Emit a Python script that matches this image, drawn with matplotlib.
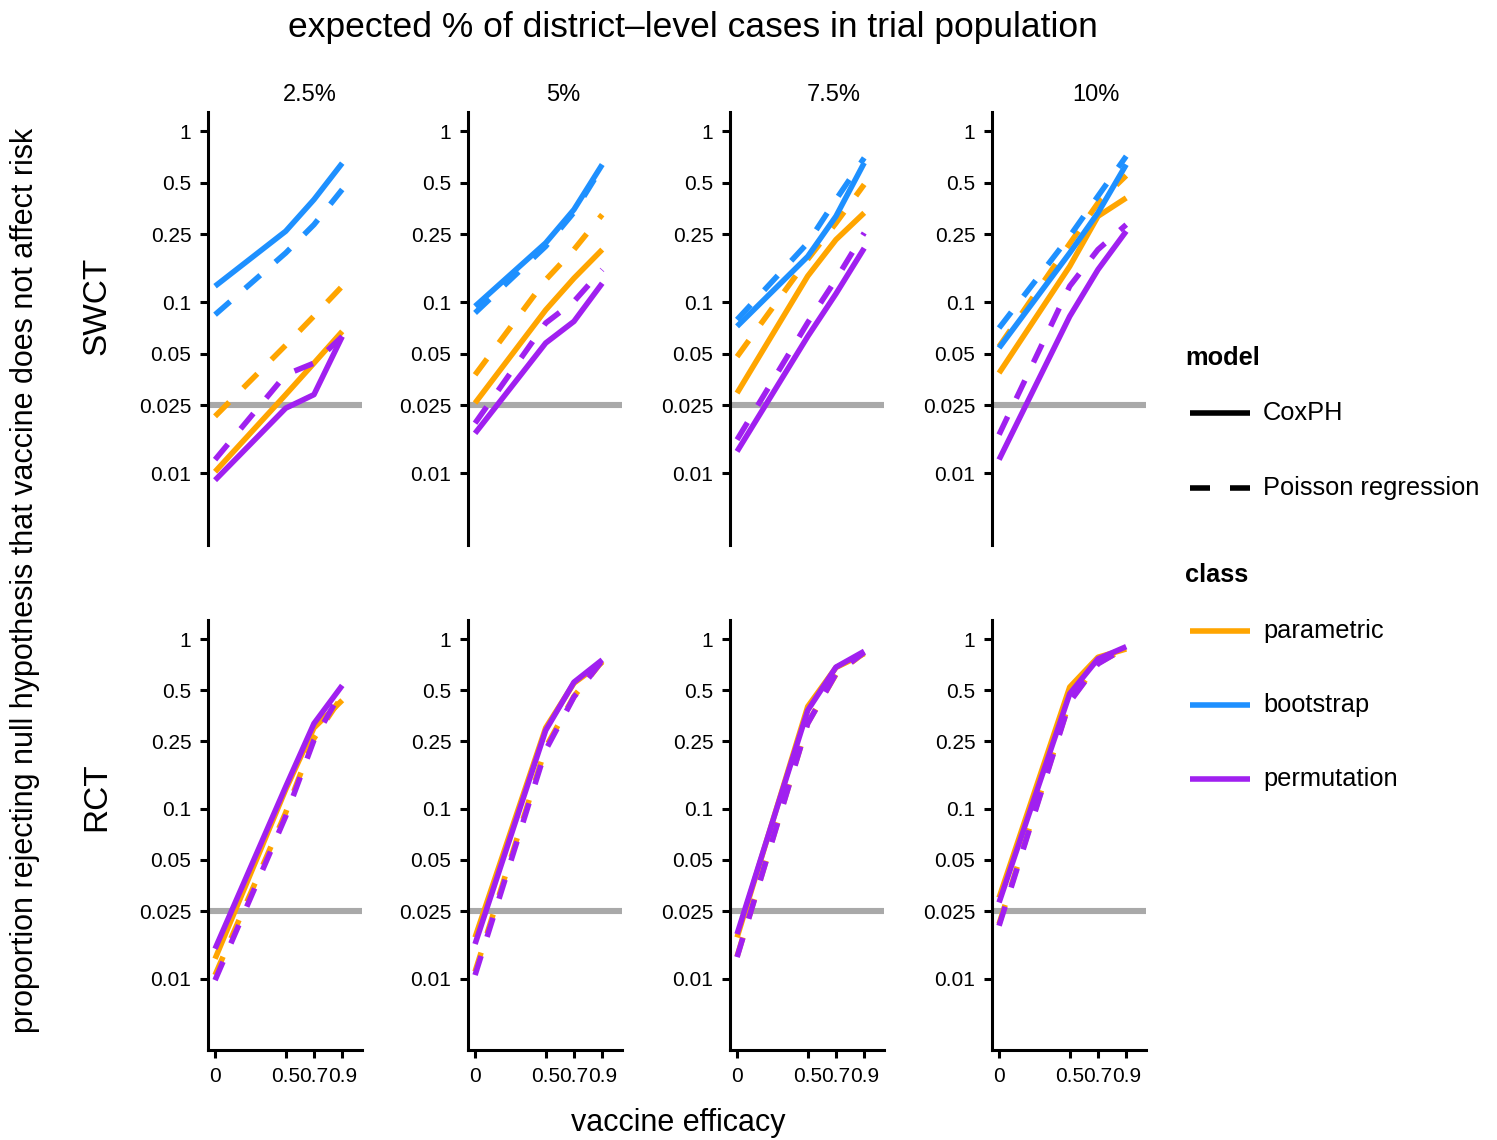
import matplotlib
matplotlib.use("Agg")
import matplotlib.pyplot as plt
from matplotlib.lines import Line2D
import numpy as np

# ---------------- data ----------------
efficacy = [0, 0.5, 0.7, 0.9]
pct_labels = ["2.5%", "5%", "7.5%", "10%"]
designs = ["SWCT", "RCT"]
classes = ["parametric", "bootstrap", "permutation"]
models = ["CoxPH", "Poisson regression"]
y_ticks = [0.01, 0.025, 0.05, 0.1, 0.25, 0.5, 1]
y_tick_labels = ["0.01", "0.025", "0.05", "0.1", "0.25", "0.5", "1"]
x_ticks = [0, 0.5, 0.7, 0.9]
x_tick_labels = ["0", "0.5", "0.7", "0.9"]
alpha_level = 0.025

# SWCT, one row per % of cases (2.5, 5, 7.5, 10), values at efficacy 0, .5, .7, .9
swct_parametric_cox = [[0.0102, 0.0288, 0.044, 0.0675],
                       [0.0257, 0.090, 0.138, 0.203],
                       [0.0294, 0.142, 0.232, 0.333],
                       [0.0385, 0.162, 0.318, 0.407]]
swct_parametric_pois = [[0.0215, 0.056, 0.083, 0.124],
                        [0.0376, 0.135, 0.203, 0.325],
                        [0.048, 0.178, 0.29, 0.488],
                        [0.055, 0.22, 0.38, 0.55]]
swct_bootstrap_cox = [[0.124, 0.26, 0.398, 0.65],
                      [0.0946, 0.222, 0.348, 0.638],
                      [0.0722, 0.185, 0.318, 0.653],
                      [0.054, 0.194, 0.333, 0.638]]
swct_bootstrap_pois = [[0.0845, 0.194, 0.284, 0.456],
                       [0.0865, 0.212, 0.335, 0.62],
                       [0.079, 0.222, 0.398, 0.698],
                       [0.0706, 0.243, 0.417, 0.714]]
swct_permutation_cox = [[0.0091, 0.024, 0.0288, 0.063],
                        [0.0171, 0.0577, 0.0772, 0.129],
                        [0.0134, 0.063, 0.112, 0.207],
                        [0.012, 0.0826, 0.155, 0.26]]
swct_permutation_pois = [[0.012, 0.0377, 0.044, 0.063],
                         [0.0196, 0.0755, 0.101, 0.155],
                         [0.0157, 0.0759, 0.136, 0.254],
                         [0.0168, 0.124, 0.203, 0.284]]

# RCT
rct_parametric_cox = [[0.0131, 0.13, 0.30, 0.436],
                      [0.0175, 0.30, 0.55, 0.73],
                      [0.0175, 0.40, 0.68, 0.82],
                      [0.030, 0.521, 0.781, 0.874]]
rct_parametric_pois = [[0.0105, 0.095, 0.26, 0.46],
                       [0.011, 0.23, 0.46, 0.74],
                       [0.0135, 0.32, 0.62, 0.83],
                       [0.021, 0.43, 0.72, 0.89]]
rct_permutation_cox = [[0.015, 0.135, 0.318, 0.533],
                       [0.016, 0.29, 0.557, 0.754],
                       [0.0183, 0.38, 0.683, 0.847],
                       [0.0281, 0.476, 0.764, 0.902]]
rct_permutation_pois = [[0.0098, 0.0904, 0.254, 0.499],
                        [0.0105, 0.222, 0.456, 0.747],
                        [0.0134, 0.318, 0.624, 0.835],
                        [0.0205, 0.426, 0.714, 0.894]]

class_colors = {"parametric": "#FFA500", "bootstrap": "#1E90FF", "permutation": "#A020F0"}
model_styles = {"CoxPH": "-", "Poisson regression": (0, (3.6, 3.6))}

series = {
    "SWCT": {("parametric", "CoxPH"): swct_parametric_cox,
             ("parametric", "Poisson regression"): swct_parametric_pois,
             ("bootstrap", "CoxPH"): swct_bootstrap_cox,
             ("bootstrap", "Poisson regression"): swct_bootstrap_pois,
             ("permutation", "CoxPH"): swct_permutation_cox,
             ("permutation", "Poisson regression"): swct_permutation_pois},
    "RCT": {("parametric", "CoxPH"): rct_parametric_cox,
            ("parametric", "Poisson regression"): rct_parametric_pois,
            ("permutation", "CoxPH"): rct_permutation_cox,
            ("permutation", "Poisson regression"): rct_permutation_pois},
}

# ---------------- layout ----------------
W, H = 1497, 1140
DPI = 100
fig = plt.figure(figsize=(W / DPI, H / DPI), dpi=DPI)
FONT = ["Liberation Sans", "DejaVu Sans"]

col_left = [208, 468, 730, 992]
ax_w = 154
row_box = [(112, 545), (620, 1050)]
LW = 4.0
SP = 2.2


def px_rect(x0, top, w, bottom):
    return [x0 / W, 1 - bottom / H, w / W, (bottom - top) / H]


def fx(x):
    return x / W


def fy(y):
    return 1 - y / H


for r, design in enumerate(designs):
    top, bottom = row_box[r]
    for c in range(4):
        ax = fig.add_axes(px_rect(col_left[c], top, ax_w, bottom))
        ax.set_yscale("log")
        ax.axhline(alpha_level, color="#A9A9A9", lw=4.4, zorder=1)
        for cls in classes:
            for mdl in models:
                vals = series[design].get((cls, mdl))
                if vals is None:
                    continue
                ax.plot(efficacy, vals[c], color=class_colors[cls],
                        linestyle=model_styles[mdl], lw=LW,
                        solid_capstyle="butt", dash_capstyle="butt", zorder=2)
        ax.set_ylim(10 ** -2.42, 10 ** 0.112)
        ax.set_xlim(-0.05, 1.04)
        ax.set_yticks(y_ticks)
        ax.set_yticklabels(y_tick_labels, family=FONT, fontsize=15)
        ax.yaxis.set_minor_locator(matplotlib.ticker.NullLocator())
        for s in ["top", "right"]:
            ax.spines[s].set_visible(False)
        ax.spines["left"].set_linewidth(SP)
        ax.spines["bottom"].set_linewidth(SP)
        ax.tick_params(axis="y", length=6, width=SP, color="black", pad=6)
        ax.tick_params(axis="x", length=6, width=SP, color="black", pad=6)
        if r == 0:
            ax.spines["bottom"].set_visible(False)
            ax.set_xticks([])
        else:
            ax.set_xticks(x_ticks)
            ax.set_xticklabels(x_tick_labels, family=FONT, fontsize=15)
        ax.patch.set_alpha(0)

# strip labels
strip_x = [310, 563, 834, 1096]
for c in range(4):
    fig.text(fx(strip_x[c]), fy(95), pct_labels[c], ha="center", va="center",
             family=FONT, fontsize=17)
# row labels
row_y = [306, 797]
for r, design in enumerate(designs):
    fig.text(fx(97), fy(row_y[r]), design, rotation=90, ha="center", va="center",
             family=FONT, fontsize=24)

fig.text(fx(693), fy(27), "expected % of district\u2013level cases in trial population",
         ha="center", va="center", family=FONT, fontsize=25.5)
fig.text(fx(25), fy(580),
         "proportion rejecting null hypothesis that vaccine does not affect risk",
         rotation=90, ha="center", va="center", family=FONT, fontsize=22)
fig.text(fx(678), fy(1123), "vaccine efficacy", ha="center", va="center",
         family=FONT, fontsize=22)

# legends (drawn manually in figure coordinates)
LEG_FS = 18.3
fig.text(fx(1185), fy(358), "model", ha="left", va="center", family=FONT,
         fontsize=LEG_FS, weight="bold")
for m, yy in zip(models, [413, 488]):
    fig.add_artist(Line2D([fx(1190), fx(1250)], [fy(yy), fy(yy)], transform=fig.transFigure,
                          color="black", lw=LW, linestyle=model_styles[m],
                          solid_capstyle="butt", dash_capstyle="butt"))
    fig.text(fx(1263), fy(yy), m, ha="left", va="center", family=FONT, fontsize=LEG_FS)
fig.text(fx(1185), fy(575), "class", ha="left", va="center", family=FONT,
         fontsize=LEG_FS, weight="bold")
for k, yy in zip(classes, [631, 705, 779]):
    fig.add_artist(Line2D([fx(1190), fx(1250)], [fy(yy), fy(yy)], transform=fig.transFigure,
                          color=class_colors[k], lw=LW, solid_capstyle="butt"))
    fig.text(fx(1263), fy(yy), k, ha="left", va="center", family=FONT, fontsize=LEG_FS)

fig.savefig("out.png", dpi=DPI)
